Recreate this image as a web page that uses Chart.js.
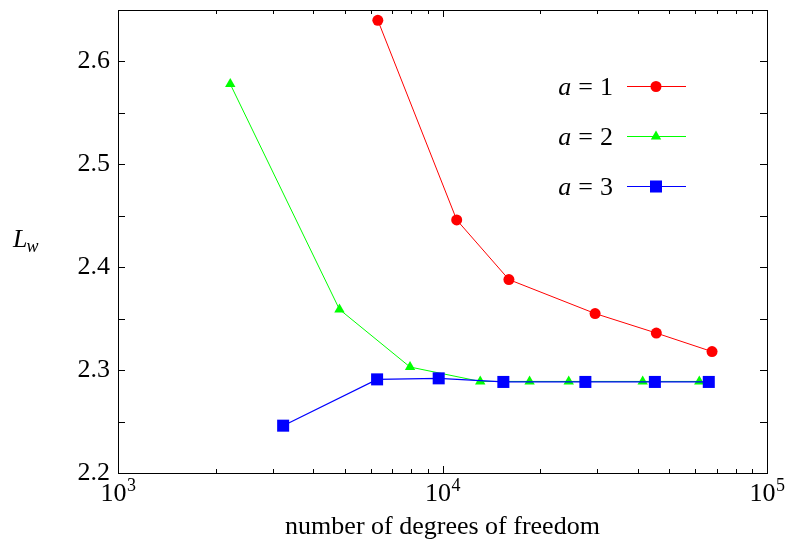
<!DOCTYPE html>
<html><head><meta charset="utf-8">
<script src="https://cdn.jsdelivr.net/npm/chart.js@4.4.1/dist/chart.umd.min.js"></script>
<style>html,body{margin:0;padding:0;background:#fff}#wrap{width:788px;height:544px}</style>
</head><body><div id="wrap"><canvas id="c" width="788" height="544"></canvas></div>
<script>
// ---- data ----
const dofA1 = [6320, 11060, 16020, 29530, 45600, 67700];
const lwA1  = [2.640, 2.446, 2.388, 2.355, 2.336, 2.318];
const dofA2 = [2218, 4814, 7943, 13070, 18550, 24490, 41390, 61850];
const lwA2  = [2.578, 2.359, 2.303, 2.289, 2.289, 2.289, 2.289, 2.289];
const dofA3 = [3228, 6287, 9734, 15400, 27560, 45130, 66160];
const lwA3  = [2.246, 2.291, 2.292, 2.2885, 2.2885, 2.2885, 2.2885];
const seriesLabels = ['a = 1', 'a = 2', 'a = 3'];
const xTickExponents = [3, 4, 5];
const yTickLabels = ['2.2', '2.3', '2.4', '2.5', '2.6'];
const xTitle = 'number of degrees of freedom';
const yTitle = ['L', 'w'];

const FONT = '"Liberation Serif", "Times New Roman", serif';
const FS = 26;
const FSS = 18;

function pts(xs, ys) { return xs.map((x, i) => ({ x: x, y: ys[i] })); }

const styles = [
  { color: '#ff0000', pointStyle: 'circle', radius: 5.5, order: 3, width: 1 },
  { color: '#00ff00', pointStyle: 'triangle', radius: 6, order: 2, width: 1 },
  { color: '#0000ff', pointStyle: 'rect', radius: 8.5, order: 1, width: 1.2 }
];
const series = [pts(dofA1, lwA1), pts(dofA2, lwA2), pts(dofA3, lwA3)];

const datasets = series.map((d, i) => ({
  label: seriesLabels[i],
  data: d,
  showLine: true,
  borderColor: styles[i].color,
  backgroundColor: styles[i].color,
  borderWidth: styles[i].width,
  pointStyle: styles[i].pointStyle,
  pointRadius: styles[i].radius,
  pointBorderWidth: 0,
  pointBackgroundColor: styles[i].color,
  tension: 0,
  order: styles[i].order,
  clip: false
}));

const decorPlugin = {
  id: 'decor',
  afterDraw(chart) {
    const ctx = chart.ctx, a = chart.chartArea;
    const xs = chart.scales.x, ys = chart.scales.y;
    ctx.save();
    ctx.strokeStyle = '#000';
    ctx.lineWidth = 1;
    ctx.strokeRect(Math.round(a.left) + 0.5, Math.round(a.top) + 0.5,
                   Math.round(a.right - a.left), Math.round(a.bottom - a.top));
    ctx.beginPath();
    for (let e = xTickExponents[0]; e < xTickExponents[xTickExponents.length - 1]; e++) {
      for (let m = 1; m < 10; m++) {
        const px = Math.round(xs.getPixelForValue(m * Math.pow(10, e))) + 0.5;
        const len = m === 1 ? 7 : 4;
        ctx.moveTo(px, a.bottom); ctx.lineTo(px, a.bottom - len);
        ctx.moveTo(px, a.top); ctx.lineTo(px, a.top + len);
      }
    }
    ys.ticks.forEach(t => {
      const py = Math.round(ys.getPixelForValue(t.value)) + 0.5;
      ctx.moveTo(a.left, py); ctx.lineTo(a.left + 7, py);
      ctx.moveTo(a.right, py); ctx.lineTo(a.right - 7, py);
    });
    ctx.stroke();

    // x tick labels 10^n
    ctx.fillStyle = '#000';
    ctx.textBaseline = 'alphabetic';
    ctx.textAlign = 'left';
    xTickExponents.forEach(e => {
      const px = xs.getPixelForValue(Math.pow(10, e));
      ctx.font = FS + 'px ' + FONT;
      const w1 = ctx.measureText('10').width;
      ctx.font = FSS + 'px ' + FONT;
      const w2 = ctx.measureText(String(e)).width;
      const x0 = px - (w1 + w2) / 2;
      ctx.font = FS + 'px ' + FONT;
      ctx.fillText('10', x0, a.bottom + 28);
      ctx.font = FSS + 'px ' + FONT;
      ctx.fillText(String(e), x0 + w1 + 0.5, a.bottom + 18);
    });

    // x title
    ctx.font = FS + 'px ' + FONT;
    ctx.textAlign = 'center';
    ctx.fillText(xTitle, (a.left + a.right) / 2, 534);

    // y title L_w
    ctx.textAlign = 'left';
    ctx.font = 'italic ' + FS + 'px ' + FONT;
    ctx.fillText(yTitle[0], 13, 247);
    const wl = ctx.measureText(yTitle[0]).width;
    ctx.font = 'italic ' + FSS + 'px ' + FONT;
    ctx.fillText(yTitle[1], 13 + wl - 1, 252);

    // legend inside plot (label right-aligned, sample on the right)
    const gap = 7;
    datasets.forEach((ds, i) => {
      const rowY = a.top + 76 + i * 50;
      const parts = ds.label.split(' ');
      const fonts = parts.map((p, k) => (k === 0 ? 'italic ' : '') + FS + 'px ' + FONT);
      const widths = parts.map((p, k) => { ctx.font = fonts[k]; return ctx.measureText(p).width; });
      const total = widths.reduce((s, w) => s + w, 0) + gap * (parts.length - 1);
      let x = a.right - 154 - total;
      ctx.fillStyle = '#000';
      ctx.textAlign = 'left';
      parts.forEach((p, k) => {
        ctx.font = fonts[k];
        ctx.fillText(p, x, rowY + 9);
        x += widths[k] + gap;
      });
      ctx.strokeStyle = ds.borderColor;
      ctx.lineWidth = ds.borderWidth;
      ctx.beginPath();
      ctx.moveTo(a.right - 140, rowY + 0.5);
      ctx.lineTo(a.right - 81, rowY + 0.5);
      ctx.stroke();
      ctx.fillStyle = ds.pointBackgroundColor;
      ctx.strokeStyle = ds.borderColor;
      Chart.helpers.drawPoint(ctx, { pointStyle: ds.pointStyle, radius: ds.pointRadius, rotation: 0, borderWidth: 0 }, a.right - 111, rowY + 0.5);
    });
    ctx.restore();
  }
};

new Chart(document.getElementById('c'), {
  type: 'scatter',
  data: { datasets: datasets },
  options: {
    responsive: false,
    animation: false,
    layout: { padding: { top: 10, right: 21, left: 0, bottom: 0 } },
    plugins: { legend: { display: false }, tooltip: { enabled: false } },
    scales: {
      x: {
        type: 'logarithmic', min: 1000, max: 100000,
        grid: { display: false, drawTicks: false }, border: { display: false },
        ticks: { display: false },
        afterFit(s) { s.height = 71; s.paddingLeft = 0; s.paddingRight = 0; }
      },
      y: {
        type: 'linear', min: 2.2, max: 2.65,
        grid: { display: false, drawTicks: false }, border: { display: false },
        ticks: {
          stepSize: 0.05, color: '#000', padding: 8,
          font: { family: FONT, size: FS },
          callback(v) {
            const s = Number(v).toFixed(1);
            return (Math.abs(v - parseFloat(s)) < 1e-6 && yTickLabels.includes(s)) ? s : '';
          }
        },
        afterFit(s) { s.width = 118; s.paddingTop = 0; s.paddingBottom = 0; }
      }
    }
  },
  plugins: [decorPlugin]
});
</script>
</body></html>
